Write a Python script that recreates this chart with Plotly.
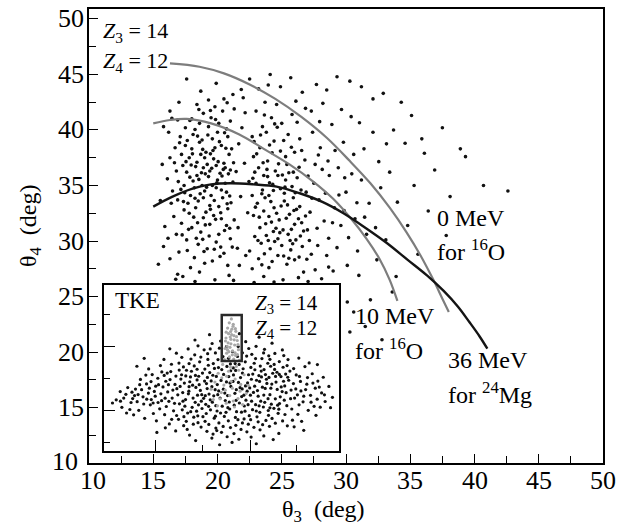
import plotly.graph_objects as go

FONT = "Liberation Serif, Times New Roman, serif"

# ---------------- data ----------------
X_TICK_VALUES = [10, 15, 20, 25, 30, 35, 40, 45, 50]
Y_TICK_VALUES = [10, 15, 20, 25, 30, 35, 40, 45, 50]

# kinematic curves (theta3, theta4) in degrees
CURVE_0MEV_16O = [(16.3, 46.0), (18.6, 45.7), (20.5, 45.1), (22.5, 44.1), (24.5, 42.8),
                  (26.5, 41.2), (28.5, 39.3), (30.3, 37.2), (31.9, 35.2), (33.4, 33.0),
                  (34.7, 30.8), (35.8, 28.7), (36.8, 26.5), (37.5, 24.8), (38.0, 23.6)]
CURVE_10MEV_16O = [(15.0, 40.6), (16.3, 40.9), (17.6, 41.0), (19.5, 40.6), (21.7, 39.6),
                   (23.6, 38.3), (25.6, 36.9), (27.4, 35.4), (29.0, 33.8), (30.4, 32.0),
                   (31.6, 30.2), (32.6, 28.4), (33.4, 26.5), (34.0, 24.6)]
CURVE_36MEV_24MG = [(15.0, 33.1), (16.5, 34.0), (18.0, 34.7), (19.5, 35.1), (21.0, 35.2),
                    (22.8, 35.1), (24.6, 34.9), (26.4, 34.3), (28.2, 33.5), (29.8, 32.5),
                    (31.5, 31.2), (33.2, 29.8), (34.8, 28.3), (36.3, 26.9), (37.6, 25.5),
                    (38.7, 24.1), (39.6, 22.7), (40.4, 21.4), (41.0, 20.3)]

# measured events, theta3 vs theta4 (deg)
MAIN_EVENTS = [
    (17.6,36.2),(18.1,35.4),(18.4,37.1),(18.9,36.6),(19.3,35.8),(19.7,37.4),(20.2,36.1),(20.6,35.2),
    (20.9,37.8),(18.0,38.3),(18.6,38.9),(19.1,38.0),(19.6,39.2),(20.3,38.6),(20.8,39.4),(17.9,34.1),
    (18.5,33.6),(19.0,34.5),(19.4,33.2),(19.9,34.8),(20.4,33.9),(20.7,34.4),(17.4,35.0),(17.8,37.5),
    (18.3,36.7),(18.8,35.0),(19.2,36.9),(19.5,34.1),(20.0,35.5),(20.5,37.0),(21.0,36.4),(17.7,33.4),
    (18.2,34.8),(18.7,37.8),(19.8,38.4),(20.1,33.1),(19.4,36.3),(18.9,33.9),(17.5,38.6),(21.2,35.3),
    (18.4,35.9),(19.0,37.5),(20.6,36.6),(17.3,36.8),(19.6,35.0),(18.1,39.6),(20.0,39.8),(19.3,40.3),
    (18.6,40.6),(20.7,40.1),(21.1,38.3),(17.2,37.8),(18.8,39.1),(19.9,36.8),(20.3,34.6),(18.3,33.0),
    (19.1,32.6),(20.8,32.9),(17.8,32.5),(19.7,32.3),
    (17.2,31.6),(18.0,31.2),(18.7,30.8),(19.4,31.5),(20.1,30.6),(20.7,31.4),(17.6,30.1),(18.5,29.7),
    (19.2,29.3),(19.9,29.9),(20.5,28.9),(21.0,30.2),(17.0,29.0),(18.2,28.5),(19.6,28.2),(16.8,30.6),
    (21.3,31.9),(18.9,32.1),(17.4,32.8),(20.3,32.0),(16.6,32.2),(19.0,28.0),(17.9,27.6),(20.8,27.8),
    (17.5,40.2),(18.0,41.0),(18.9,41.5),(19.5,41.1),(20.4,41.7),(21.0,40.8),(17.1,39.4),(19.8,42.1),
    (18.4,42.3),(16.9,40.9),(21.3,41.9),(20.1,40.6),
    (16.5,34.5),(16.8,36.3),(16.3,37.5),(16.7,38.4),(16.1,35.6),(16.4,33.4),(15.9,31.3),(16.2,39.8),
    (15.7,36.9),(16.9,33.7),
    (17.45,34.35),(17.95,36.85),(18.25,33.85),(18.55,35.55),(18.85,38.25),(19.15,34.85),(19.45,37.85),
    (19.75,33.65),(20.05,37.15),(20.35,35.85),(20.65,38.35),(20.95,34.05),(17.65,39.05),(18.45,39.45),
    (19.25,39.55),(20.15,38.95),(17.85,35.75),(18.65,34.25),(19.55,36.55),(20.45,36.45),(21.05,33.45),
    (17.35,33.55),(18.15,32.15),(19.05,31.45),(19.85,31.95),(20.55,30.95),(17.75,31.05),(18.35,30.25),
    (19.35,30.45),(20.25,29.45),(18.95,29.05),(17.25,30.55),(21.15,29.45),(18.75,36.15),(19.65,38.15),
    (20.85,36.05),(17.55,37.15),(18.05,37.85),(19.95,35.25),(20.75,33.35),(18.45,31.65),(19.45,32.85),
    (17.15,34.65),(21.25,37.05),(18.25,40.05),(19.85,40.95),(20.55,39.75),(17.85,40.85),(19.05,36.05),
    (20.25,32.55),(18.85,30.15),(17.65,29.15),(19.75,29.25),(20.95,31.15),(16.95,35.35),(16.65,37.05),
    (17.05,38.85),(18.55,41.85),(19.45,41.75),(20.75,42.45),
    (23.1,33.4),(23.6,32.7),(24.0,34.1),(24.4,33.0),(24.8,31.9),(25.2,33.6),(25.6,32.4),(26.0,31.5),
    (26.4,33.1),(23.3,31.2),(23.8,30.5),(24.2,31.7),(24.7,30.2),(25.1,31.0),(25.5,30.6),(25.9,33.9),
    (26.3,32.0),(26.7,30.9),(23.0,35.2),(23.5,34.6),(23.9,35.8),(24.3,35.1),(24.9,34.7),(25.3,35.5),
    (25.8,34.9),(26.2,35.7),(22.8,32.3),(22.7,34.1),(24.6,32.5),(25.0,29.6),(24.1,29.3),(23.4,29.8),
    (25.7,29.2),(26.1,30.1),(26.6,29.5),(23.7,33.9),(24.5,36.3),(25.4,36.9),(23.2,36.6),(26.9,34.4),
    (27.2,32.6),(27.0,31.0),(22.9,30.4),(24.0,32.2),(25.2,34.3),(25.9,36.2),(24.7,35.9),(23.6,35.9),
    (26.5,34.6),
    (23.25,32.15),(23.75,31.55),(24.15,33.55),(24.55,31.15),(24.95,33.15),(25.35,32.05),(25.75,31.05),
    (26.15,32.85),(26.55,31.65),(23.45,34.25),(23.95,30.05),(24.35,34.55),(24.85,30.75),(25.25,34.85),
    (25.65,30.05),(26.05,34.35),(26.45,30.45),(26.85,32.25),(23.15,30.05),(23.65,28.85),(24.45,29.95),
    (25.15,28.65),(25.85,29.75),(26.35,28.55),(23.85,36.45),(24.25,37.95),(24.75,36.95),(25.55,36.15),
    (26.35,36.65),(23.05,37.85),(23.55,37.05),(24.05,38.65),(24.65,40.25),(25.15,39.05),(22.85,38.95),
    (23.35,39.55),(25.75,38.45),(26.55,38.15),(23.65,41.35),(24.45,40.55),(22.75,35.65),(27.05,35.85),
    (27.35,33.85),(27.15,30.05),(26.95,28.35),(24.25,28.15),(25.55,28.45),(23.45,27.85),(22.95,33.05),
    (24.05,35.25),(25.05,35.95),(25.95,32.75),(24.35,30.85),(25.45,33.25),
    (22.8,37.6),(23.3,38.4),(23.9,37.2),(24.4,39.0),(24.9,38.1),(25.5,39.6),(26.0,38.0),(22.7,39.4),
    (23.5,40.3),(24.2,41.1),(25.0,40.6),(25.8,41.4),(26.4,39.2),(23.0,41.7),(24.6,42.3),(26.8,37.3),
    (22.9,36.2),(25.3,37.6),(23.8,39.8),(26.2,40.7),
    (23.2,28.4),(24.0,27.6),(24.7,28.7),(25.4,27.9),(26.0,28.3),(26.7,27.2),(23.6,26.8),(25.1,26.5),
    (22.7,27.5),(27.3,28.8),(24.4,26.3),(26.3,26.7),(27.6,27.4),(28.1,26.6),(22.5,29.1),
    (21.8,34.0),(22.1,37.0),(21.6,31.2),(22.2,28.7),(21.9,40.2),
    (21.45,36.25),(21.65,38.75),(22.35,32.55),(22.45,35.35),(21.55,29.35),
    (15.4,27.9),(16.3,28.4),(17.3,26.8),(18.6,27.2),(19.8,26.5),(20.9,26.9),(21.7,27.8),(16.9,27.0),
    (15.8,29.5),(20.2,28.6),(16.15,30.25),(15.55,33.65),(16.75,26.55),(18.25,26.35),(21.25,26.45),
    (22.85,26.25),(27.05,26.35),(28.65,27.65),
    (27.5,35.2),(27.9,33.7),(28.3,31.8),(28.7,35.9),(29.1,33.0),(29.6,31.4),(30.2,30.3),(28.0,38.4),
    (28.6,37.2),(29.4,36.6),(30.0,34.4),(30.7,32.0),(27.4,39.8),(28.9,40.5),(29.8,38.9),(30.6,37.8),
    (31.2,35.5),(31.8,33.4),(32.3,31.2),(27.8,29.6),(28.5,28.7),(29.3,29.4),(30.9,29.1),(31.6,30.6),
    (32.7,34.8),(31.4,38.3),(32.1,39.8),(27.3,41.7),(28.2,42.4),(30.4,41.2),(29.0,27.3),(30.1,27.8),
    (31.0,26.9),(32.4,28.3),(27.6,36.9),(29.9,35.7),(28.4,34.3),
    (27.75,31.15),(28.15,36.45),(28.95,31.65),(29.45,34.15),(27.85,37.75),(29.15,38.15),(30.45,36.05),
    (30.85,33.45),(31.45,32.15),(28.65,30.25),(29.85,32.75),(26.85,41.95),(27.95,40.75),(29.65,41.85),
    (31.05,40.65),(32.55,37.15),(33.15,38.75),
    (33.4,36.2),(34.0,33.5),(34.6,38.8),(35.3,35.0),(33.1,30.1),(33.7,40.0),(35.9,39.2),(36.4,32.7),
    (37.5,40.2),(38.9,38.3),(39.3,37.6),(40.7,35.0),(42.6,34.5),(34.8,31.4),(35.6,28.8),(36.9,36.4),
    (33.9,26.8),(37.8,30.5),(34.3,42.5),(32.9,43.3),(36.1,37.9),(38.1,34.0),(35.1,41.3),(33.6,25.4),
    (31.9,24.7),(30.6,23.6),(30.1,24.5),(31.5,22.3),(32.8,21.1),(30.3,21.8),
    (17.6,44.6),(18.7,43.5),(19.9,44.2),(21.2,43.2),(20.5,42.8),(17.0,42.5),(22.5,44.6),(23.2,43.7),
    (24.1,45.0),(24.9,43.9),(25.7,44.7),(26.6,43.4),(27.7,44.1),(28.5,43.6),(29.3,44.8),(30.3,44.4),
    (31.2,43.9),(32.1,42.8),(22.0,42.9),(26.1,42.6),(23.7,42.5),(19.3,42.7),(16.3,41.7),(15.8,40.3),
    (16.45,41.05),(22.15,41.55),(21.85,43.65),(23.95,44.05),
]

# inset (TKE spectrum), arbitrary units 0-100 on both axes
INSET_EVENTS = [
    (30.2,40.1),(33.5,35.2),(36.8,44.6),(39.1,38.3),(42.4,31.7),(45.0,47.2),(47.3,36.9),(49.8,42.5),
    (52.6,33.4),(55.1,45.8),(57.9,38.1),(60.4,30.6),(62.7,43.2),(65.3,36.4),(68.1,49.0),(70.6,33.9),
    (73.2,41.5),(75.8,35.8),(32.1,28.4),(35.6,22.9),(38.4,51.2),(41.7,25.6),(44.2,55.1),(46.9,19.8),
    (50.3,27.0),(53.8,52.4),(56.4,23.7),(59.2,49.5),(61.8,21.3),(64.5,27.9),(67.2,55.6),(69.9,24.4),
    (72.4,52.1),(74.7,28.6),(77.3,46.3),(28.4,47.8),(31.9,52.9),(34.7,31.0),(37.5,26.3),(40.3,45.0),
    (43.6,40.6),(46.1,29.4),(48.7,50.2),(51.2,20.8),(54.0,38.9),(56.8,56.9),(58.6,32.8),(61.1,41.0),
    (63.9,52.8),(66.7,30.0),(69.3,40.7),(71.8,46.8),(74.1,22.7),(76.9,39.2),(79.4,31.5),(27.1,35.6),
    (29.6,24.2),(33.0,45.9),(36.2,38.7),(39.8,33.6),(42.9,49.3),(45.6,42.2),(48.1,24.1),(50.9,46.1),
    (53.3,29.5),(55.7,34.7),(58.1,44.2),(60.9,36.0),(63.2,24.9),(65.9,45.4),(68.6,37.7),(71.2,28.2),
    (73.7,37.1),(76.2,50.4),(78.6,42.6),
    (31.4,33.8),(34.2,40.9),(37.9,31.9),(41.0,36.5),(44.7,34.3),(47.8,44.9),(52.1,41.6),(55.4,27.6),
    (59.7,27.1),(62.3,33.6),(66.2,41.9),(70.2,44.3),(72.9,31.4),(75.3,44.8),(35.1,48.6),(39.6,42.8),
    (43.3,28.1),(46.5,52.6),(49.4,31.9),(53.9,48.3),(57.2,41.3),(60.1,53.7),(64.1,39.0),(67.8,26.5),
    (70.9,51.0),(38.2,20.4),(42.1,20.7),(45.3,24.8),(48.9,16.9),(52.9,18.2),(57.0,18.9),(61.4,16.2),
    (65.1,20.6),(68.9,18.4),(35.0,17.9),(33.3,24.8),(40.7,53.7),(37.0,55.3),(50.6,56.8),(54.7,59.8),
    (47.4,59.0),(58.9,59.1),(62.9,58.2),(44.1,58.6),
    (31.0,37.5),(32.7,43.3),(34.4,27.0),(35.9,34.4),(37.2,48.0),(38.8,29.3),(40.5,39.9),(41.9,46.9),
    (43.1,33.3),(44.5,26.9),(45.9,38.7),(47.0,49.7),(48.4,33.9),(49.6,22.9),(50.8,37.2),(52.3,50.9),
    (53.5,25.3),(54.9,41.9),(56.2,30.5),(57.5,52.1),(58.8,37.4),(60.0,24.0),(61.5,45.9),(62.8,30.0),
    (64.2,48.9),(65.6,33.0),(67.0,44.6),(68.4,29.3),(69.7,52.8),(71.0,37.8),(72.3,25.7),(73.6,47.4),
    (75.0,32.6),(76.4,42.0),(77.8,27.3),(79.1,48.1),(29.0,31.9),(30.6,45.1),(33.8,50.6),(36.5,41.7),
    (39.4,24.0),(41.4,30.0),(44.0,44.3),(46.7,33.2),(48.2,40.0),(51.6,30.4),(53.1,44.8),(56.0,48.5),
    (59.5,33.6),(62.0,38.0),(64.8,24.1),(66.5,51.1),(68.0,33.7),(70.0,21.5),(73.0,44.9),(74.6,53.8),
    (77.5,35.1),(80.6,40.6),(82.3,33.8),(28.1,43.0),(26.5,26.8),(24.2,34.4),(22.0,39.0),(20.9,28.9),
    (19.3,37.8),(16.9,28.3),(15.2,39.9),(12.2,31.6),(85.8,37.0),(88.1,29.4),(83.6,41.9),(91.6,38.5),
    (35.4,13.0),(40.0,17.1),(44.6,16.0),(50.7,14.8),(55.3,10.5),(59.6,19.3),(63.8,14.3),(67.5,15.9),
    (71.5,19.6),(76.0,18.1),(31.7,19.1),(27.8,16.3),(80.9,14.6),(57.4,7.1),(46.4,10.2),(38.6,57.9),
    (42.6,60.9),(52.1,62.8),(61.6,61.7),(70.1,57.3),(33.1,56.4),(75.9,60.8),(55.8,52.6),
    (36.1,36.0),(37.7,39.6),(38.9,45.5),(40.2,27.8),(41.6,33.9),(42.8,42.1),(43.9,37.6),(45.2,30.8),
    (46.3,45.6),(47.6,27.3),(48.8,36.2),(50.1,49.0),(51.4,34.9),(52.7,26.1),(53.6,41.0),(55.0,50.0),
    (56.3,36.9),(57.6,28.9),(58.9,46.9),(60.2,39.2),(61.3,27.9),(62.5,50.3),(63.6,35.3),(64.9,42.6),
    (66.0,27.2),(67.4,38.4),(68.7,46.0),(69.8,31.5),(71.4,40.3),(72.6,49.1),(73.9,27.6),(75.4,38.6),
    (76.7,30.6),(78.2,44.4),(79.6,36.7),(34.8,45.2),(33.6,30.0),(32.4,38.9),(30.0,28.7),(29.3,36.7),
    (28.7,52.2),(27.4,39.9),(26.0,31.8),(25.6,45.5),(36.9,23.7),(39.9,21.2),(43.5,22.6),(47.4,21.0),
    (51.9,23.3),(55.9,20.2),(58.5,23.4),(62.4,18.9),(66.3,23.3),(70.6,26.0),(74.4,25.2),(77.0,22.0),
    (34.0,20.7),(30.9,21.4),(38.0,16.2),(43.0,17.9),(48.0,12.3),(53.8,14.1),(58.9,16.9),(65.6,17.6),
    (72.9,16.8),(41.2,56.5),(45.2,61.4),(48.5,55.0),(53.0,55.8),(57.1,62.9),(60.7,57.1),(64.5,55.6),
    (67.9,59.0),(70.6,55.2),(36.2,52.6),(39.6,49.2),(32.0,48.7),(44.4,51.6),(49.1,61.9),(63.3,46.3),
    (66.9,48.1),(69.1,43.2),(74.6,46.1),(77.9,51.4),(81.8,45.8),(83.0,27.8),(85.0,33.0),(86.6,44.2),
    (88.9,40.9),(90.7,31.2),(93.8,33.8),(18.2,31.2),(20.0,41.8),(21.8,33.0),(23.0,29.2),(24.6,47.6),
    (11.9,35.4),(14.5,34.0),(7.0,30.0),
    (5.2,30.8),(7.6,26.3),(9.3,34.1),(11.5,29.2),(13.4,37.3),(14.8,24.5),(16.6,32.6),(18.1,40.4),
    (19.7,27.8),(21.4,35.9),(22.9,43.8),(24.5,30.3),(25.8,21.9),(26.9,46.9),(12.6,21.8),(17.3,19.7),
    (20.5,46.0),(23.7,25.4),(10.1,38.2),(15.5,43.1),(8.4,31.9),(19.0,49.4),(22.3,18.2),(25.1,38.6),
    (27.6,29.9),(14.1,29.7),(18.9,34.9),(24.0,51.4),(3.6,28.9),(6.9,35.8),(11.0,25.0),(16.0,36.9),
    (21.0,22.6),(26.3,42.0),(28.8,19.1),(13.0,33.4),(20.1,31.0),(23.2,39.9),(9.6,22.9),(17.8,45.7),
    (79.9,25.3),(81.6,37.4),(83.2,44.9),(84.7,29.6),(86.3,40.2),(87.9,33.5),(89.4,26.9),(91.0,42.1),
    (92.6,35.0),(94.1,29.8),(95.7,38.9),(97.2,32.3),(80.7,49.6),(82.5,22.1),(85.5,50.8),(88.6,46.5),
    (90.2,21.5),(93.3,44.4),(81.1,31.9),(83.8,36.2),(86.9,24.5),(89.9,37.8),(96.4,26.1),(78.3,55.0),
    (80.2,18.6),(84.1,17.9),(87.3,53.0),(92.0,26.4),
    (30.5,12.1),(36.4,9.6),(41.3,14.4),(45.9,7.8),(50.0,11.3),(54.5,5.2),(58.3,13.0),(62.6,8.4),
    (66.4,12.8),(70.4,14.9),(74.4,10.6),(78.0,15.2),(26.1,14.0),(33.9,15.3),(39.0,6.3),(47.6,13.8),
    (52.4,8.6),(56.1,15.5),(60.8,11.6),(64.8,4.4),(68.0,9.1),(43.8,11.9),(72.0,6.9),(85.0,12.5),
    (22.5,11.2),(49.2,3.8),
    (25.5,55.1),(30.8,58.9),(35.8,61.4),(40.0,63.3),(46.0,64.7),(49.6,66.2),(60.3,65.8),(64.7,63.0),
    (68.3,61.2),(72.7,58.7),(76.5,57.4),(82.9,55.9),(38.7,66.8),(66.0,68.5),(28.0,61.5),(57.6,70.6),
    (44.9,70.0),(17.1,55.8),(90.8,52.0),(14.0,51.0),(71.5,64.9),
]

# inset events with Z3 = 14, Z4 = 12 (grey)
INSET_SELECTED = [
    (54.2,79.5),(53.3,77.1),(55.0,76.2),(52.6,74.0),(54.4,73.3),(56.1,72.0),(53.0,70.6),(55.3,69.4),
    (51.9,68.0),(54.0,67.2),(56.7,66.5),(52.8,65.1),(55.6,63.8),(53.6,62.4),(51.5,61.7),(57.2,61.0),
    (54.7,60.2),(52.2,58.9),(56.0,57.5),(53.4,56.6),(55.2,55.3),(51.2,55.0),(57.6,54.6),(54.0,64.5),
    (56.4,68.8),(53.9,71.9),(52.4,63.0),(55.8,59.0),(54.9,75.0),(52.0,71.5),(57.0,64.0),(53.1,59.8),
    (55.4,66.9),(54.6,57.9),(51.7,66.2),(56.8,58.0),(53.7,68.6),(55.9,73.6),(52.5,61.0),(54.3,70.0),
    (50.5,52.1),(53.9,50.4),(57.3,48.6),(48.6,46.8),(52.2,45.0),(55.8,43.3),(59.6,45.9),(47.2,41.5),
    (51.0,39.7),(54.6,37.8),(58.2,40.1),(49.9,35.2),(53.5,33.4),(57.0,31.6),(60.5,34.6),(46.5,31.0),
    (52.0,28.8),(55.5,26.5),(48.3,27.2),(59.0,28.0),(54.1,42.0),(50.1,44.1),(56.3,50.9),(61.4,39.5),
    (45.6,37.2),(53.0,48.0),(51.6,36.6),(57.9,36.0),(49.4,31.4),(55.0,30.1),
]
INSET_GATE = (50.1, 58.6, 54.1, 81.9)  # x0, x1, y0, y1

# ---------------- figure ----------------
fig = go.Figure()

def xs(pts):
    return [p[0] for p in pts]

def ys(pts):
    return [p[1] for p in pts]

fig.add_trace(go.Scatter(x=xs(MAIN_EVENTS), y=ys(MAIN_EVENTS), mode="markers",
                         marker=dict(size=3.6, color="#111111"), hoverinfo="skip"))
for curve, col, w in [(CURVE_0MEV_16O, "#7d7d7d", 2.2),
                      (CURVE_10MEV_16O, "#7d7d7d", 2.2),
                      (CURVE_36MEV_24MG, "#141414", 2.4)]:
    fig.add_trace(go.Scatter(x=xs(curve), y=ys(curve), mode="lines",
                             line=dict(color=col, width=w, shape="spline"), hoverinfo="skip"))

fig.add_trace(go.Scatter(x=xs(INSET_EVENTS), y=ys(INSET_EVENTS), mode="markers",
                         xaxis="x2", yaxis="y2",
                         marker=dict(size=3.2, color="#111111"), hoverinfo="skip"))
fig.add_trace(go.Scatter(x=xs(INSET_SELECTED), y=ys(INSET_SELECTED), mode="markers",
                         xaxis="x2", yaxis="y2",
                         marker=dict(size=3.2, color="#a8a8a8"), hoverinfo="skip"))

fig.update_layout(
    width=619, height=529,
    margin=dict(l=89, r=16, t=7, b=66),
    paper_bgcolor="white", plot_bgcolor="white",
    showlegend=False,
    font=dict(family=FONT, size=24, color="black"),
    xaxis=dict(range=[10, 50], tickvals=X_TICK_VALUES, ticks="inside", ticklen=9, tickwidth=1.3,
               tickcolor="black", showline=True, linecolor="black", linewidth=1.6, mirror=True,
               showgrid=False, zeroline=False, showticklabels=False,
               minor=dict(dtick=2.5, tick0=10, ticks="inside", ticklen=7, tickwidth=1.3,
                          tickcolor="black", showgrid=False)),
    yaxis=dict(range=[10, 50.9], tickvals=Y_TICK_VALUES, ticks="inside", ticklen=9, tickwidth=1.3,
               tickcolor="black", showline=True, linecolor="black", linewidth=1.6, mirror=True,
               showgrid=False, zeroline=False, showticklabels=False,
               minor=dict(dtick=2.5, tick0=10, ticks="inside", ticklen=7, tickwidth=1.3,
                          tickcolor="black", showgrid=False)),
    xaxis2=dict(domain=[0.0292, 0.4864], anchor="y2", range=[0, 100],
                tickvals=[21.7, 62.4], ticks="inside", ticklen=11, tickwidth=1.3, tickcolor="black",
                showticklabels=False, showline=True, linecolor="black", linewidth=1.8, mirror=True,
                showgrid=False, zeroline=False,
                minor=dict(tickvals=[42.0, 82.1], ticks="inside", ticklen=6, tickwidth=1.3,
                           tickcolor="black", showgrid=False)),
    yaxis2=dict(domain=[0.0263, 0.3925], anchor="x2", range=[0, 100],
                tickvals=[62.9, 24.6], ticks="inside", ticklen=11, tickwidth=1.3, tickcolor="black",
                showticklabels=False, showline=True, linecolor="black", linewidth=1.8, mirror=True,
                showgrid=False, zeroline=False,
                minor=dict(tickvals=[82.0, 43.7, 5.4], ticks="inside", ticklen=6, tickwidth=1.3,
                           tickcolor="black", showgrid=False)),
)

fig.add_shape(type="rect", xref="x2", yref="y2",
              x0=INSET_GATE[0], x1=INSET_GATE[1], y0=INSET_GATE[2], y1=INSET_GATE[3],
              line=dict(color="#2a2a2a", width=2.5))

# helpers: convert a pixel position of the reference picture to paper fractions
def px_x(px):
    return (px - 89) / 514.0

def px_y(py):
    return (463 - py) / 456.0

tick_font = dict(family=FONT, size=26, color="black")
for i, v in enumerate(X_TICK_VALUES):
    fig.add_annotation(text=str(v), x=v, xref="x", y=px_y(481), yref="paper",
                       xanchor="center", yanchor="middle", showarrow=False, font=tick_font,
                       xshift=4 if i == 0 else 0)
for i, v in enumerate(Y_TICK_VALUES):
    fig.add_annotation(text=str(v), x=px_x(86), xref="paper", y=v, yref="y",
                       xanchor="right", yanchor="middle", showarrow=False, font=tick_font,
                       xshift=-6 if i == 0 else 0, yshift=2 if i == 0 else 0)

labels = [
    ("<i>Z</i><sub>3</sub> = 14", 101, 30, 22),
    ("<i>Z</i><sub>4</sub> = 12", 101, 60, 22),
    ("0 MeV", 435, 217, 24),
    ("for <sup>16</sup>O", 435, 249, 24),
    ("10 MeV", 353, 315, 24),
    ("for <sup>16</sup>O", 353, 348, 24),
    ("36 MeV", 446, 360, 24),
    ("for <sup>24</sup>Mg", 446, 393, 24),
    ("TKE", 113, 300, 23),
    ("<i>Z</i><sub>3</sub> = 14", 253, 303, 21),
    ("<i>Z</i><sub>4</sub> = 12", 253, 328, 21),
]
for txt, lx, ly, fs in labels:
    fig.add_annotation(text=txt, x=px_x(lx), y=px_y(ly), xref="paper", yref="paper",
                       xanchor="left", yanchor="middle", showarrow=False,
                       font=dict(family=FONT, size=fs, color="black"))

fig.add_annotation(text="θ<sub>3</sub>  (deg)", x=px_x(323), y=px_y(511), xref="paper", yref="paper",
                   xanchor="center", yanchor="middle", showarrow=False,
                   font=dict(family=FONT, size=24, color="black"))
fig.add_annotation(text="θ<sub>4</sub>  (deg)", x=px_x(30), y=px_y(225), xref="paper", yref="paper",
                   xanchor="center", yanchor="middle", showarrow=False, textangle=-90,
                   font=dict(family=FONT, size=24, color="black"))

# remove the default 8px page margin so the 619x529 figure fills the window exactly
fig.write_html("out.html", config={"displayModeBar": False},
               post_script="document.body.style.margin='0';document.body.style.overflow='hidden';")
